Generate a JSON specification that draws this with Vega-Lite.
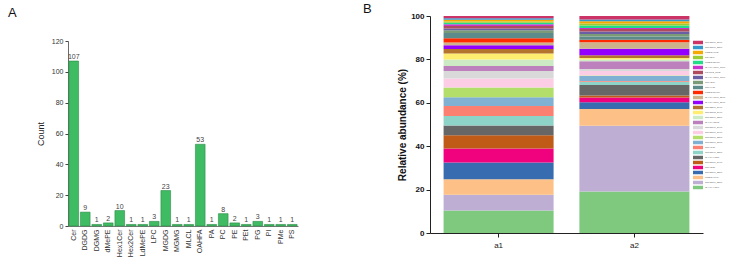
{
  "$schema": "https://vega.github.io/schema/vega-lite/v6.json",
  "padding": {"left": 8, "top": 3, "right": 0, "bottom": 0},
  "config": {
    "font": "Liberation Sans",
    "view": {"stroke": null},
    "title": {"fontSize": 13, "fontWeight": "normal", "color": "#111"}
  },
  "spacing": 65,
  "resolve": {"legend": {"color": "independent"}},
  "datasets": {
    "counts": [
      {"cls": "Cer", "n": 107}, {"cls": "DGDG", "n": 9}, {"cls": "DGMG", "n": 1}, {"cls": "dMePE", "n": 2},
      {"cls": "Hex1Cer", "n": 10}, {"cls": "Hex2Cer", "n": 1}, {"cls": "LdMePE", "n": 1}, {"cls": "LPC", "n": 3},
      {"cls": "MGDG", "n": 23}, {"cls": "MGMG", "n": 1}, {"cls": "MLCL", "n": 1}, {"cls": "OAHFA", "n": 53},
      {"cls": "PA", "n": 1}, {"cls": "PC", "n": 8}, {"cls": "PE", "n": 2}, {"cls": "PEt", "n": 1},
      {"cls": "PG", "n": 3}, {"cls": "PI", "n": 1}, {"cls": "PMe", "n": 1}, {"cls": "PS", "n": 1}
    ],
    "abundance": [
      {"sample": "a1", "lipid": "OAHFA(42:7)", "rank": 1, "value": 10.4},
      {"sample": "a1", "lipid": "Cer(d18:1_22:0)", "rank": 2, "value": 7.2},
      {"sample": "a1", "lipid": "MGDG(46:1)", "rank": 3, "value": 7.2},
      {"sample": "a1", "lipid": "Cer(d18:1_22:1)", "rank": 4, "value": 7.7},
      {"sample": "a1", "lipid": "Cer(42:2)", "rank": 5, "value": 6.4},
      {"sample": "a1", "lipid": "Cer(d18:1_24:0)", "rank": 6, "value": 6.1},
      {"sample": "a1", "lipid": "OAHFA(42:5)", "rank": 7, "value": 4.5},
      {"sample": "a1", "lipid": "Cer(d16:1_22:0)", "rank": 8, "value": 4.4},
      {"sample": "a1", "lipid": "Cer(41:2)", "rank": 9, "value": 4.6},
      {"sample": "a1", "lipid": "Cer(d18:1_20:0)", "rank": 10, "value": 4.1},
      {"sample": "a1", "lipid": "Cer(d18:0_22:1)", "rank": 11, "value": 4.5},
      {"sample": "a1", "lipid": "Cer(d18:1_24:1)", "rank": 12, "value": 4.1},
      {"sample": "a1", "lipid": "Cer(d16:1_24:1)", "rank": 13, "value": 3.4},
      {"sample": "a1", "lipid": "OAHFA(36:3)", "rank": 14, "value": 2.4},
      {"sample": "a1", "lipid": "Cer(d18:1_23:1)", "rank": 15, "value": 3.0},
      {"sample": "a1", "lipid": "Cer(d18:2_24:0)", "rank": 16, "value": 2.7},
      {"sample": "a1", "lipid": "Cer(d20:1_24:0)", "rank": 17, "value": 2.1},
      {"sample": "a1", "lipid": "OAHFA(18:1_26:0)", "rank": 18, "value": 1.7},
      {"sample": "a1", "lipid": "OAHFA(16:0_26:0)", "rank": 19, "value": 1.3},
      {"sample": "a1", "lipid": "MGDG(34:1e)", "rank": 20, "value": 2.0},
      {"sample": "a1", "lipid": "Cer(44:2)", "rank": 21, "value": 2.4},
      {"sample": "a1", "lipid": "Cer(42:1)", "rank": 22, "value": 1.2},
      {"sample": "a1", "lipid": "OAHFA(18:0_18:1)", "rank": 23, "value": 0.8},
      {"sample": "a1", "lipid": "PG(18:2_18:2)", "rank": 24, "value": 1.2},
      {"sample": "a1", "lipid": "OAHFA(18:1_18:0)", "rank": 25, "value": 0.8},
      {"sample": "a1", "lipid": "MGDG(36:1e)", "rank": 26, "value": 0.7},
      {"sample": "a1", "lipid": "PG(42:0)", "rank": 27, "value": 0.6},
      {"sample": "a1", "lipid": "MGDG(46:2)", "rank": 28, "value": 0.8},
      {"sample": "a1", "lipid": "Cer(d18:1_23:0)", "rank": 29, "value": 0.7},
      {"sample": "a1", "lipid": "Cer(d18:0_26:1)", "rank": 30, "value": 1.0},
      {"sample": "a2", "lipid": "OAHFA(42:7)", "rank": 1, "value": 19.1},
      {"sample": "a2", "lipid": "Cer(d18:1_22:0)", "rank": 2, "value": 30.3},
      {"sample": "a2", "lipid": "MGDG(46:1)", "rank": 3, "value": 7.7},
      {"sample": "a2", "lipid": "Cer(d18:1_22:1)", "rank": 4, "value": 3.1},
      {"sample": "a2", "lipid": "Cer(42:2)", "rank": 5, "value": 2.3},
      {"sample": "a2", "lipid": "Cer(d18:1_24:0)", "rank": 6, "value": 0.9},
      {"sample": "a2", "lipid": "OAHFA(42:5)", "rank": 7, "value": 4.8},
      {"sample": "a2", "lipid": "Cer(d16:1_22:0)", "rank": 8, "value": 1.5},
      {"sample": "a2", "lipid": "Cer(41:2)", "rank": 9, "value": 0.3},
      {"sample": "a2", "lipid": "Cer(d18:1_20:0)", "rank": 10, "value": 2.3},
      {"sample": "a2", "lipid": "Cer(d18:0_22:1)", "rank": 11, "value": 0.3},
      {"sample": "a2", "lipid": "Cer(d18:1_24:1)", "rank": 12, "value": 2.0},
      {"sample": "a2", "lipid": "Cer(d16:1_24:1)", "rank": 13, "value": 1.0},
      {"sample": "a2", "lipid": "OAHFA(36:3)", "rank": 14, "value": 3.5},
      {"sample": "a2", "lipid": "Cer(d18:1_23:1)", "rank": 15, "value": 0.8},
      {"sample": "a2", "lipid": "Cer(d18:2_24:0)", "rank": 16, "value": 0.8},
      {"sample": "a2", "lipid": "Cer(d20:1_24:0)", "rank": 17, "value": 1.2},
      {"sample": "a2", "lipid": "OAHFA(18:1_26:0)", "rank": 18, "value": 3.0},
      {"sample": "a2", "lipid": "OAHFA(16:0_26:0)", "rank": 19, "value": 3.0},
      {"sample": "a2", "lipid": "MGDG(34:1e)", "rank": 20, "value": 1.2},
      {"sample": "a2", "lipid": "Cer(44:2)", "rank": 21, "value": 1.5},
      {"sample": "a2", "lipid": "Cer(42:1)", "rank": 22, "value": 1.1},
      {"sample": "a2", "lipid": "OAHFA(18:0_18:1)", "rank": 23, "value": 1.2},
      {"sample": "a2", "lipid": "PG(18:2_18:2)", "rank": 24, "value": 1.1},
      {"sample": "a2", "lipid": "OAHFA(18:1_18:0)", "rank": 25, "value": 0.5},
      {"sample": "a2", "lipid": "MGDG(36:1e)", "rank": 26, "value": 1.1},
      {"sample": "a2", "lipid": "PG(42:0)", "rank": 27, "value": 0.9},
      {"sample": "a2", "lipid": "MGDG(46:2)", "rank": 28, "value": 1.1},
      {"sample": "a2", "lipid": "Cer(d18:1_23:0)", "rank": 29, "value": 0.8},
      {"sample": "a2", "lipid": "Cer(d18:0_26:1)", "rank": 30, "value": 1.6}
    ]
  },
  "hconcat": [
    {
      "width": 230,
      "height": 210,
      "title": {"text": "A", "anchor": "start", "frame": "group", "dx": -60, "offset": -17, "baseline": "bottom"},
      "data": {"name": "counts"},
      "encoding": {
        "x": {
          "field": "cls", "type": "nominal", "sort": null,
          "scale": {"paddingInner": 0.16, "paddingOuter": 0.08},
          "axis": {"title": null, "labelAngle": 270, "labelFontSize": 7, "labelColor": "#333", "ticks": false, "labelPadding": 3, "domainColor": "#555", "domainWidth": 0.8}
        },
        "y": {
          "field": "n", "type": "quantitative",
          "scale": {"domain": [0, 120], "range": [210, 25], "nice": false},
          "axis": {"title": "Count", "titleFontSize": 9, "titleFontWeight": "normal", "titleColor": "#222", "titlePadding": 6, "values": [0, 20, 40, 60, 80, 100, 120], "labelFontSize": 7, "labelColor": "#333", "tickSize": 3, "tickColor": "#444", "domainColor": "#444", "domainWidth": 0.8, "grid": false, "labelPadding": 2}
        }
      },
      "layer": [
        {"mark": {"type": "bar", "color": "#3fbb63", "stroke": "#2b8c47", "strokeWidth": 0.6}},
        {"mark": {"type": "text", "baseline": "bottom", "dy": -1, "fontSize": 7, "color": "#444"}, "encoding": {"text": {"field": "n", "type": "quantitative"}}}
      ]
    },
    {
      "width": 273,
      "height": 217,
      "title": {"text": "B", "anchor": "start", "frame": "group", "dx": -67, "offset": -17, "baseline": "bottom"},
      "data": {"name": "abundance"},
      "mark": {"type": "bar"},
      "encoding": {
        "x": {
          "field": "sample", "type": "nominal",
          "scale": {"paddingInner": 0.19, "paddingOuter": 0.1},
          "axis": {"title": null, "labelAngle": 0, "labelFontSize": 8, "labelColor": "#222", "tickSize": 4, "tickColor": "#222", "domainColor": "#222", "labelPadding": 4}
        },
        "y": {
          "field": "value", "type": "quantitative", "stack": "zero",
          "scale": {"domain": [0, 100], "nice": false},
          "axis": {"title": "Relative abundance (%)", "titleFontSize": 10, "titleFontWeight": "bold", "titleColor": "#111", "titlePadding": 3, "values": [0, 20, 40, 60, 80, 100], "labelFontSize": 8, "labelFontWeight": "bold", "labelColor": "#111", "tickSize": 4, "tickColor": "#222", "domainColor": "#222", "grid": false, "labelPadding": 2}
        },
        "order": {"field": "rank", "type": "quantitative", "sort": "ascending"},
        "color": {
          "field": "lipid", "type": "nominal",
          "scale": {
            "domain": ["Cer(d18:0_26:1)", "Cer(d18:1_23:0)", "MGDG(46:2)", "PG(42:0)", "MGDG(36:1e)", "OAHFA(18:1_18:0)", "PG(18:2_18:2)", "OAHFA(18:0_18:1)", "Cer(42:1)", "Cer(44:2)", "MGDG(34:1e)", "OAHFA(16:0_26:0)", "OAHFA(18:1_26:0)", "Cer(d20:1_24:0)", "Cer(d18:2_24:0)", "Cer(d18:1_23:1)", "OAHFA(36:3)", "Cer(d16:1_24:1)", "Cer(d18:1_24:1)", "Cer(d18:0_22:1)", "Cer(d18:1_20:0)", "Cer(41:2)", "Cer(d16:1_22:0)", "OAHFA(42:5)", "Cer(d18:1_24:0)", "Cer(42:2)", "Cer(d18:1_22:1)", "MGDG(46:1)", "Cer(d18:1_22:0)", "OAHFA(42:7)"],
            "range": ["#cc3366", "#3399cc", "#f5a800", "#9acd32", "#22dd88", "#cc33cc", "#b04a5e", "#6a5fa5", "#7a9a78", "#5d8a8a", "#ff2a00", "#cdb38b", "#9400ff", "#b5742e", "#ffed6f", "#ccebc5", "#bc80bd", "#d9d9d9", "#fccde5", "#b3de69", "#80b1d3", "#fb8072", "#8dd3c7", "#666666", "#bf5b17", "#f0027f", "#386cb0", "#fdc086", "#beaed4", "#7fc97f"]
          },
          "legend": {"orient": "none", "legendX": 263, "legendY": 24, "title": null, "symbolType": "M-1,-0.35H1V0.35H-1Z", "symbolSize": 100, "symbolStrokeWidth": 0, "labelFontSize": 2.4, "labelColor": "#555", "clipHeight": 5, "rowPadding": 0, "labelOffset": 2, "padding": 0, "labelLimit": 60}
        }
      }
    }
  ]
}
